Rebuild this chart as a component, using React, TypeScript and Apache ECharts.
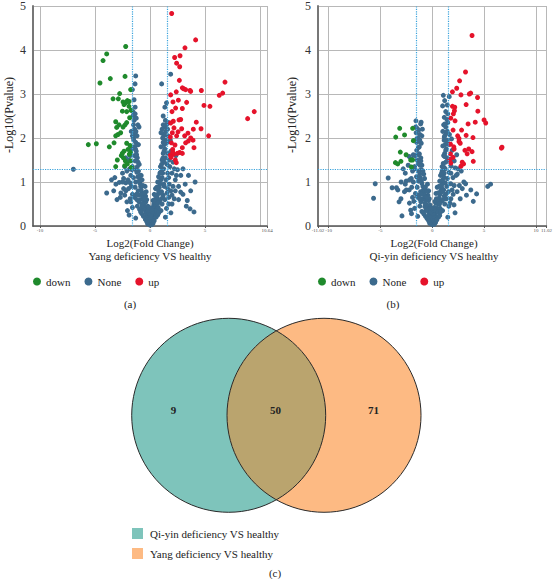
import React, { useEffect, useRef } from "react";
import * as echarts from "echarts";

// ---------- DATA ----------
// Panel (a): Yang deficiency VS healthy
const downA: number[][] = [
  [-2.21, 4.08], [-3.94, 3.91], [-4.27, 3.76], [-4.55, 3.25], [-3.61, 3.35], [-2.27, 3.4],
  [-1.76, 3.1], [-2.76, 3.01], [-3.36, 2.89], [-2.88, 2.89], [-2.06, 2.85], [-1.9, 2.83],
  [-2.45, 2.82], [-2.21, 2.8], [-2.36, 2.76], [-1.91, 2.72], [-1.73, 2.63], [-2.12, 2.6],
  [-2.51, 2.61], [-1.85, 2.46], [-3.12, 2.37], [-2.12, 2.35], [-2.82, 2.3], [-2.27, 2.3],
  [-3.03, 2.24], [-2.45, 2.25], [-2.67, 2.12], [-2.91, 2.08], [-3.12, 2.05], [-5.61, 1.85],
  [-4.88, 1.87], [-3.7, 1.8], [-3.27, 1.89], [-2.12, 1.88], [-1.82, 1.83], [-2.0, 1.74],
  [-2.36, 1.7], [-1.76, 1.67], [-2.97, 1.5], [-2.61, 1.6], [-2.42, 1.55], [-2.24, 1.48],
  [-1.76, 1.48], [-2.06, 1.41], [-3.12, 1.35], [-2.3, 1.37], [-1.7, 1.33], [-1.88, 1.63],
  [-2.52, 1.65]
];
const upA: number[][] = [
  [1.97, 4.83], [4.15, 4.23], [3.18, 4.05], [2.73, 3.87], [2.24, 3.83], [2.42, 3.7],
  [2.7, 3.62], [6.82, 3.27], [2.67, 3.31], [6.61, 3.02], [6.3, 2.97], [4.67, 3.08],
  [3.7, 3.06], [2.94, 3.14], [3.06, 3.12], [3.24, 3.1], [3.64, 3.08], [2.39, 3.05],
  [1.88, 2.98], [9.48, 2.6], [8.88, 2.44], [5.45, 2.72], [4.91, 2.74], [3.33, 2.81],
  [2.09, 2.82], [2.58, 2.86], [2.94, 2.67], [2.33, 2.68], [2.0, 2.6], [2.79, 2.42],
  [2.64, 2.41], [2.12, 2.38], [1.88, 2.34], [2.18, 2.23], [2.88, 2.21], [4.21, 2.36],
  [3.94, 2.2], [4.64, 2.21], [5.33, 2.05], [1.85, 2.02], [2.03, 2.12], [2.55, 2.14],
  [2.42, 2.05], [3.15, 2.05], [3.45, 2.11], [3.7, 2.0], [3.48, 1.93], [3.24, 1.89],
  [3.91, 1.95], [4.0, 1.78], [2.94, 1.78], [2.27, 1.84], [1.94, 1.89], [2.06, 1.74],
  [2.7, 1.67], [2.94, 1.65], [1.85, 1.61], [2.15, 1.63], [1.91, 1.56], [2.3, 1.5],
  [2.39, 1.44], [2.06, 1.68], [2.48, 1.65]
];
const noneA: number[][] = [
  [0, 0.02], [0.05, 0.05], [-0.05, 0.04], [0.1, 0.08], [-0.1, 0.07], [0.15, 0.1], [-0.15, 0.12],
  [0.2, 0.15], [-0.2, 0.14], [0.25, 0.18], [-0.25, 0.2], [0.3, 0.22], [-0.3, 0.25], [0.02, 0.12],
  [-0.08, 0.18], [0.12, 0.2], [0.35, 0.28], [-0.35, 0.3], [0.4, 0.33], [-0.4, 0.35], [0.45, 0.3],
  [-0.45, 0.38], [0.5, 0.42], [-0.5, 0.45], [0.18, 0.03], [-0.22, 0.05], [0.28, 0.06], [-0.3, 0.1],
  [0.38, 0.12], [-0.42, 0.15], [0.55, 0.2], [-0.6, 0.22], [0.7, 0.25], [-0.75, 0.28], [0.08, 0.25],
  [-0.12, 0.3], [0.22, 0.32], [-0.28, 0.4], [0.32, 0.45], [-0.18, 0.35],
  [0.22, 0.4], [-0.2, 0.45], [0.35, 0.5], [-0.38, 0.55], [0.15, 0.38], [-0.1, 0.42], [0.6, 0.35],
  [-0.62, 0.38], [0.75, 0.42], [-0.7, 0.45], [0.42, 0.6], [-0.4, 0.68], [0.28, 0.58], [-0.3, 0.6],
  [0.85, 0.55], [-0.88, 0.6], [0.5, 0.85], [-0.45, 0.9], [0.38, 0.72], [-0.35, 0.78],
  [0.55, 0.5], [-0.55, 0.52], [0.6, 0.58], [-0.62, 0.6], [0.65, 0.65], [-0.68, 0.68], [0.7, 0.72],
  [-0.72, 0.75], [0.78, 0.8], [-0.8, 0.82], [0.85, 0.88], [-0.85, 0.9], [0.9, 0.95], [-0.92, 0.97],
  [0.45, 0.55], [-0.48, 0.62], [0.5, 0.7], [-0.5, 0.75], [0.95, 0.6], [-1.0, 0.55], [1.1, 0.5],
  [-1.15, 0.45], [1.2, 0.7], [-1.25, 0.72], [1.3, 0.9], [-1.35, 0.88], [1.5, 0.4], [-1.6, 0.42],
  [1.7, 0.65], [-1.8, 0.62], [2.0, 0.5], [-2.1, 0.55], [2.3, 0.8], [-2.4, 0.85], [2.6, 0.6],
  [-2.7, 0.65], [3.0, 0.72], [-3.1, 0.95], [3.3, 0.45], [-2.79, 0.99], [3.64, 0.39], [4.0, 0.32],
  [3.39, 0.58], [-3.94, 0.75], [2.79, 0.77], [-2.2, 0.98], [1.9, 0.3], [-1.9, 0.25], [1.4, 0.2],
  [-1.3, 0.18], [1.0, 0.35], [-0.95, 0.38], [0.8, 0.3], [-0.85, 0.32], [0.72, 0.52], [-0.75, 0.5],
  [1.05, 0.78], [-1.08, 0.8], [0.62, 0.88], [-0.65, 0.92], [1.6, 0.85], [-1.7, 0.9], [2.2, 0.62],
  [-2.3, 0.7],
  [0.7, 1.0], [-0.72, 1.05], [0.78, 1.12], [-0.8, 1.15], [0.95, 1.22], [-1.05, 1.25], [1.12, 1.3],
  [-1.15, 1.35], [1.25, 0.95], [-1.3, 1.0], [1.45, 1.05], [-1.5, 1.1], [1.6, 1.2], [-1.65, 1.28],
  [1.75, 0.95], [-1.8, 0.98], [1.9, 0.8], [-1.95, 0.85], [1.35, 0.6], [-1.4, 0.65], [1.55, 0.75],
  [-1.6, 0.72], [1.15, 0.65], [-1.2, 0.6], [0.98, 0.75], [-1.02, 0.7], [1.8, 1.35], [-1.85, 1.3],
  [2.1, 0.9], [-2.2, 0.8], [2.4, 1.15], [-2.5, 1.0], [2.6, 0.9], [-2.65, 0.75], [2.2, 1.3],
  [-2.3, 1.35], [3.2, 0.95], [-3.3, 0.8], [3.7, 0.8], [-3.0, 0.6], [4.1, 1.0], [-2.0, 1.05],
  [1.7, 0.5], [-1.75, 0.55], [2.0, 0.7], [-2.05, 0.35],
  [1.0, 1.05], [-1.0, 1.02], [1.1, 1.1], [-1.1, 1.12], [1.15, 1.2], [-1.2, 1.22], [1.25, 1.3],
  [-1.3, 1.28], [0.95, 1.35], [-0.98, 1.4], [1.3, 1.45], [-1.35, 1.48], [1.4, 1.55], [-1.4, 1.6],
  [1.2, 1.65], [-1.25, 1.7], [1.35, 1.75], [-1.45, 1.8], [1.3, 1.85], [-1.3, 1.9], [1.4, 1.95],
  [-1.5, 2.0], [1.25, 2.05], [-1.35, 2.1], [1.45, 2.15], [-1.4, 2.2], [1.35, 2.25], [-1.5, 2.3],
  [1.5, 2.3], [-1.55, 2.5], [1.55, 1.4], [-1.6, 1.35], [1.7, 1.1], [-1.75, 1.15], [2.0, 1.2],
  [-2.1, 1.25], [2.3, 1.05], [-2.4, 1.08], [2.5, 1.28], [-2.5, 1.2], [3.0, 1.3], [-3.2, 1.1],
  [3.5, 1.15], [-3.5, 1.05], [2.8, 1.15], [1.6, 1.65], [-1.65, 1.75], [1.55, 1.9], [-1.6, 2.05],
  [0.9, 1.2], [-0.9, 1.15], [1.1, 1.5], [-1.15, 1.55], [1.2, 1.9], [-1.2, 1.85], [1.1, 2.2],
  [-1.0, 2.25], [0.85, 1.0], [-0.88, 1.05],
  [1.05, 1.4], [-1.08, 1.45], [1.18, 1.55], [-1.22, 1.62], [1.28, 1.7], [-1.32, 1.75], [1.0, 1.8],
  [-1.05, 1.85], [1.42, 1.88], [-1.48, 1.95], [1.15, 2.0], [-1.18, 2.05], [1.3, 2.1], [-1.28, 2.15],
  [1.0, 2.12], [-1.1, 2.3], [1.4, 2.4], [-1.45, 2.4], [1.2, 2.3], [-1.35, 2.55], [1.65, 2.05],
  [-1.7, 2.15], [1.75, 1.5], [-1.8, 1.6], [1.9, 1.7], [-1.95, 1.5], [1.85, 1.95], [2.1, 1.45],
  [-2.2, 1.55], [2.35, 1.6],
  [-6.97, 1.29], [-1.3, 3.41], [-1.36, 3.23], [-1.6, 3.1], [-1.45, 2.87], [-1.35, 2.7],
  [-1.55, 2.6], [1.88, 3.45], [1.06, 3.23], [1.5, 2.8], [1.35, 2.7], [1.6, 2.2], [1.7, 2.35],
  [-1.25, 2.45], [1.2, 2.5]
];

// Panel (b): Qi-yin deficiency VS healthy
const downB: number[][] = [
  [-3.14, 2.22], [-1.89, 2.22], [-2.67, 2.07], [-3.52, 2.02], [-1.82, 1.94], [-3.08, 1.68],
  [-2.52, 1.62], [-2.08, 1.5], [-1.9, 1.5], [-3.02, 1.47], [-3.55, 1.44], [-3.33, 1.41],
  [-2.01, 1.34]
];
const upB: number[][] = [
  [3.84, 4.33], [3.21, 3.5], [2.64, 3.3], [2.36, 3.13], [1.95, 3.05], [2.77, 2.98], [3.58, 3.0],
  [3.71, 3.02], [4.37, 2.92], [1.95, 2.72], [2.17, 2.7], [3.27, 2.76], [4.4, 2.61], [2.14, 2.62],
  [2.04, 2.55], [1.79, 2.45], [2.2, 2.39], [4.15, 2.36], [3.46, 2.32], [5.0, 2.41], [5.16, 2.34],
  [2.83, 2.18], [2.01, 2.18], [2.45, 2.05], [3.27, 2.06], [2.58, 1.99], [3.93, 2.01], [1.76, 1.86],
  [2.08, 1.8], [2.7, 1.88], [2.58, 1.92], [2.11, 1.75], [3.52, 1.75], [3.84, 1.69], [3.15, 1.72],
  [3.37, 1.64], [6.73, 1.79], [6.67, 1.77], [1.76, 1.64], [2.01, 1.56], [1.7, 1.51], [1.79, 1.43],
  [2.89, 1.45], [3.02, 1.41], [3.96, 1.47], [2.77, 1.36]
];
const noneB: number[][] = [
  [0, 0.03], [0.06, 0.06], [-0.06, 0.05], [0.12, 0.1], [-0.12, 0.09], [0.18, 0.13], [-0.18, 0.15],
  [0.24, 0.18], [-0.24, 0.2], [0.3, 0.24], [-0.3, 0.26], [0.36, 0.3], [-0.36, 0.32], [0.03, 0.15],
  [-0.1, 0.2], [0.15, 0.22], [0.42, 0.35], [-0.42, 0.38], [0.48, 0.4], [-0.48, 0.42], [0.2, 0.04],
  [-0.25, 0.06], [0.32, 0.08], [-0.35, 0.12], [0.45, 0.14], [-0.5, 0.17], [0.6, 0.2], [-0.65, 0.22],
  [0.72, 0.24], [-0.8, 0.27], [0.08, 0.28], [-0.14, 0.32], [0.25, 0.36], [-0.3, 0.42],
  [0.2, 0.42], [-0.22, 0.48], [0.33, 0.52], [-0.36, 0.58], [0.14, 0.36], [-0.08, 0.4], [0.58, 0.32],
  [-0.6, 0.36], [0.76, 0.4], [-0.72, 0.44], [0.4, 0.62], [-0.42, 0.7], [0.26, 0.56], [-0.28, 0.62],
  [0.86, 0.56], [-0.9, 0.62], [0.48, 0.88], [-0.46, 0.95], [0.36, 0.74], [-0.34, 0.8],
  [0.55, 0.5], [-0.55, 0.48], [0.62, 0.56], [-0.6, 0.6], [0.68, 0.64], [-0.7, 0.68], [0.75, 0.72],
  [-0.78, 0.75], [0.82, 0.8], [-0.85, 0.82], [0.9, 0.88], [-0.9, 0.9], [0.95, 0.95], [-1.0, 0.97],
  [0.5, 0.6], [-0.5, 0.65], [0.55, 0.75], [-0.55, 0.8], [1.05, 0.6], [-1.1, 0.55], [1.2, 0.5],
  [-1.2, 0.45], [1.3, 0.72], [-1.3, 0.7], [1.4, 0.9], [-1.45, 0.88], [1.6, 0.45], [-1.7, 0.4],
  [1.8, 0.62], [-1.9, 0.65], [2.1, 0.48], [-2.2, 0.52], [2.4, 0.78], [-2.5, 0.82], [2.7, 0.62],
  [-2.92, 0.23], [3.05, 1.0], [-3.2, 0.55], [3.3, 0.7], [-3.87, 0.87], [-3.45, 0.87], [3.96, 0.56],
  [4.28, 0.73], [5.35, 0.9], [5.63, 0.95], [-5.66, 0.63], [-5.5, 0.96], [-4.25, 1.09], [2.2, 0.3],
  [-2.0, 0.28], [1.5, 0.2], [-1.4, 0.22], [1.0, 0.35], [-1.0, 0.33], [0.8, 0.32], [-0.85, 0.3],
  [2.9, 0.85], [-2.6, 0.95], [-3.0, 1.0], [0.7, 0.5], [-0.72, 0.52], [1.1, 0.82], [-1.12, 0.78],
  [0.65, 0.9], [-0.66, 0.88],
  [0.72, 1.02], [-0.74, 1.08], [0.8, 1.15], [-0.82, 1.18], [0.96, 1.25], [-1.06, 1.28], [1.14, 1.33],
  [-1.18, 1.38], [1.26, 0.98], [-1.32, 1.02], [1.46, 1.08], [-1.52, 1.12], [1.62, 1.22], [-1.68, 1.3],
  [1.78, 0.96], [-1.82, 1.0], [1.92, 0.82], [-1.98, 0.88], [1.36, 0.62], [-1.42, 0.66], [1.56, 0.78],
  [-1.62, 0.74], [1.16, 0.68], [-1.22, 0.62], [1.0, 0.78], [-1.04, 0.72], [1.82, 1.36], [-1.88, 1.32],
  [2.12, 0.92], [-2.22, 0.82], [2.42, 1.18], [-2.52, 1.02], [2.62, 0.92], [-2.68, 0.78], [2.22, 1.32],
  [-2.32, 1.38], [3.22, 0.96], [-3.32, 0.82], [3.72, 0.82], [-3.02, 0.62], [2.8, 1.25], [-2.02, 1.08],
  [1.72, 0.52], [-1.78, 0.56], [2.02, 0.72], [-2.08, 0.36],
  [1.0, 1.05], [-1.05, 1.02], [1.1, 1.12], [-1.15, 1.1], [1.15, 1.2], [-1.2, 1.18], [1.25, 1.3],
  [-1.3, 1.25], [0.95, 1.35], [-1.0, 1.38], [1.3, 1.45], [-1.35, 1.42], [1.4, 1.55], [-1.45, 1.5],
  [1.2, 1.65], [-1.3, 1.62], [1.35, 1.75], [-1.5, 1.72], [1.25, 1.85], [-1.25, 1.8], [1.45, 1.95],
  [-1.5, 1.9], [1.2, 2.05], [-1.4, 2.0], [1.45, 2.15], [-1.55, 2.12], [1.3, 2.25], [-1.6, 2.25],
  [1.5, 2.35], [1.16, 2.47], [1.5, 2.55], [1.0, 2.73], [1.07, 2.97], [1.64, 2.94], [-1.57, 2.39],
  [-1.07, 2.36], [-1.45, 2.22], [-0.95, 2.2], [1.6, 1.5], [-1.7, 1.35], [1.8, 1.2], [-1.9, 1.25],
  [2.0, 1.1], [-2.2, 1.05], [2.5, 1.3], [-2.6, 1.2], [2.3, 1.15], [-2.8, 1.3], [1.6, 1.85],
  [-1.65, 1.6], [0.9, 1.2], [-0.9, 1.25], [1.1, 1.6], [-1.1, 1.55], [1.15, 1.95], [-1.2, 1.95],
  [1.1, 2.3], [-1.0, 2.05],
  [1.06, 1.42], [-1.1, 1.48], [1.2, 1.58], [-1.24, 1.64], [1.3, 1.72], [-1.34, 1.78], [1.02, 1.82],
  [-1.06, 1.88], [1.44, 1.9], [-1.5, 1.98], [1.16, 2.02], [-1.2, 2.08], [1.32, 2.12], [-1.3, 2.18],
  [1.02, 2.15], [-1.12, 2.32], [1.42, 2.42], [1.22, 2.32], [1.66, 2.08], [1.76, 1.52], [-1.82, 1.62],
  [1.92, 1.72], [-1.96, 1.52], [1.86, 1.98], [2.12, 1.48], [-2.22, 1.58], [2.36, 1.62], [1.3, 2.6],
  [1.45, 2.75], [1.2, 2.85]
];

const xTicksA = [-10, -5, 0, 5, 10, 10.64];
const xTicksB = [-11.02, -10, -5, 0, 5, 10, 11.02];
const xRangeA = [-10.64, 10.64];
const xRangeB = [-11.02, 11.02];
const foldCut = 1.585;
const pCut = 1.301;

const legendNames = ["down", "None", "up"];
const vennCounts = [9, 50, 71];
const vennSets = ["Qi-yin deficiency VS healthy", "Yang deficiency VS healthy"];

// ---------- STYLE ----------
const SERIF = "Liberation Serif";
const GREEN = "#1f8a2c";
const BLUE = "#3c6a8d";
const RED = "#e5132b";
const TEAL = "#7ec4bb";
const ORANGE = "#fdba83";
const LENS = "#baa46e";

export default function App() {
  const ref = useRef<HTMLDivElement>(null);

  useEffect(() => {
    if (!ref.current) return;
    const chart = echarts.init(ref.current, null, { renderer: "svg" });

    const grids = [
      { left: 33, top: 4, width: 234, height: 222 },
      { left: 318, top: 5, width: 233, height: 221 },
    ];

    const mkX = (gi: number, range: number[], ticks: number[]) => ({
      type: "value",
      gridIndex: gi,
      min: range[0],
      max: range[1],
      axisLine: { show: true, onZero: false, lineStyle: { color: "#555", width: 1.5 } },
      axisTick: { show: true, length: 2, customValues: ticks, lineStyle: { color: "#555" } },
      axisLabel: {
        customValues: ticks,
        fontSize: 5,
        margin: 2,
        color: "#555",
        fontFamily: SERIF,
        showMinLabel: true,
        showMaxLabel: true,
      },
      splitLine: { show: true, lineStyle: { color: "#b8b8b8", width: 1 } },
    });
    const mkY = (gi: number) => ({
      type: "value",
      gridIndex: gi,
      min: 0,
      max: 5,
      interval: 1,
      axisLine: { show: true, onZero: false, lineStyle: { color: "#777", width: 2 } },
      axisTick: { show: false },
      axisLabel: { fontSize: 12, margin: 7, color: "#333", fontFamily: SERIF },
      splitLine: { show: true, lineStyle: { color: "#b8b8b8", width: 1 } },
    });

    const thresholdLines = {
      silent: true,
      symbol: "none",
      label: { show: false },
      lineStyle: { color: "#3aa3dc", type: "dotted", width: 1.2 },
      data: [{ xAxis: -foldCut }, { xAxis: foldCut }, { yAxis: pCut }],
    };

    const scatter = (name: string, gi: number, data: number[][], color: string, extra: any = {}) => ({
      type: "scatter",
      name,
      xAxisIndex: gi,
      yAxisIndex: gi,
      data,
      symbolSize: 5,
      itemStyle: { color, opacity: 1 },
      ...extra,
    });

    // Venn lens geometry
    const c1 = { x: 228.7, y: 415.3 };
    const c2 = { x: 324, y: 415.3 };
    const r = 97;
    const halfD = (c2.x - c1.x) / 2;
    const th = Math.acos(halfD / r);
    const lens: number[][] = [];
    const N = 60;
    for (let i = 0; i <= N; i++) {
      const t = -th + (2 * th * i) / N;
      lens.push([c1.x + r * Math.cos(t), c1.y + r * Math.sin(t)]);
    }
    for (let i = 0; i <= N; i++) {
      const t = Math.PI - th + (2 * th * i) / N;
      lens.push([c2.x + r * Math.cos(t), c2.y + r * Math.sin(t)]);
    }

    const txt = (text: string, x: number, y: number, size: number, extra: any = {}) => ({
      type: "text",
      x,
      y,
      ...extra,
      style: {
        text,
        fontSize: size,
        fontFamily: SERIF,
        fill: "#222",
        align: "center",
        verticalAlign: "middle",
        textAlign: "center",
        textVerticalAlign: "middle",
        ...(extra.style || {}),
      },
    });

    const legendCommon = {
      data: legendNames,
      icon: "circle",
      itemWidth: 8,
      itemHeight: 8,
      itemGap: 14,
      padding: 0,
      selectedMode: false,
      textStyle: { fontSize: 11, fontFamily: SERIF, color: "#222" },
    };

    chart.setOption({
      animation: false,
      backgroundColor: "#fff",
      textStyle: { fontFamily: SERIF },
      grid: grids,
      xAxis: [mkX(0, xRangeA, xTicksA), mkX(1, xRangeB, xTicksB)],
      yAxis: [mkY(0), mkY(1)],
      legend: [
        { ...legendCommon, left: 33, top: 276 },
        { ...legendCommon, left: 318, top: 276 },
      ],
      series: [
        scatter("None", 0, noneA, BLUE, { markLine: thresholdLines, z: 2 }),
        scatter("down", 0, downA, GREEN, { z: 3 }),
        scatter("up", 0, upA, RED, { z: 3 }),
        scatter("None", 1, noneB, BLUE, { markLine: thresholdLines, z: 2 }),
        scatter("down", 1, downB, GREEN, { z: 3 }),
        scatter("up", 1, upB, RED, { z: 3 }),
      ],
      graphic: [
        txt("-Log10(Pvalue)", 9, 115, 12, { rotation: Math.PI / 2 }),
        txt("-Log10(Pvalue)", 292, 115, 12, { rotation: Math.PI / 2 }),
        txt("Log2(Fold Change)", 150, 243, 11),
        txt("Yang deficiency VS healthy", 150, 256, 11),
        txt("Log2(Fold Change)", 434, 243, 11),
        txt("Qi-yin deficiency VS healthy", 434, 256, 11),
        txt("(a)", 130, 304, 11),
        txt("(b)", 393, 304, 11),
        { type: "circle", shape: { cx: c1.x, cy: c1.y, r }, style: { fill: TEAL } },
        { type: "circle", shape: { cx: c2.x, cy: c2.y, r }, style: { fill: ORANGE } },
        { type: "polygon", shape: { points: lens }, style: { fill: LENS } },
        { type: "circle", shape: { cx: c1.x, cy: c1.y, r }, style: { fill: "none", stroke: "#2a2a2a", lineWidth: 1 } },
        { type: "circle", shape: { cx: c2.x, cy: c2.y, r }, style: { fill: "none", stroke: "#2a2a2a", lineWidth: 1 } },
        txt(String(vennCounts[0]), 173.5, 410, 11, { style: { fontWeight: "bold" } }),
        txt(String(vennCounts[1]), 275.5, 410, 11, { style: { fontWeight: "bold" } }),
        txt(String(vennCounts[2]), 373.5, 410, 11, { style: { fontWeight: "bold" } }),
        { type: "rect", shape: { x: 132, y: 528, width: 11, height: 11 }, style: { fill: TEAL } },
        { type: "rect", shape: { x: 132, y: 548, width: 11, height: 11 }, style: { fill: ORANGE } },
        txt(vennSets[0], 150, 533.5, 11, { style: { align: "left", textAlign: "left" } }),
        txt(vennSets[1], 150, 553.5, 11, { style: { align: "left", textAlign: "left" } }),
        txt("(c)", 275, 573, 11),
      ],
    });

    return () => chart.dispose();
  }, []);

  return (
    <div
      ref={ref}
      style={{ position: "absolute", left: 0, top: 0, width: 555, height: 579, background: "#fff" }}
    />
  );
}
